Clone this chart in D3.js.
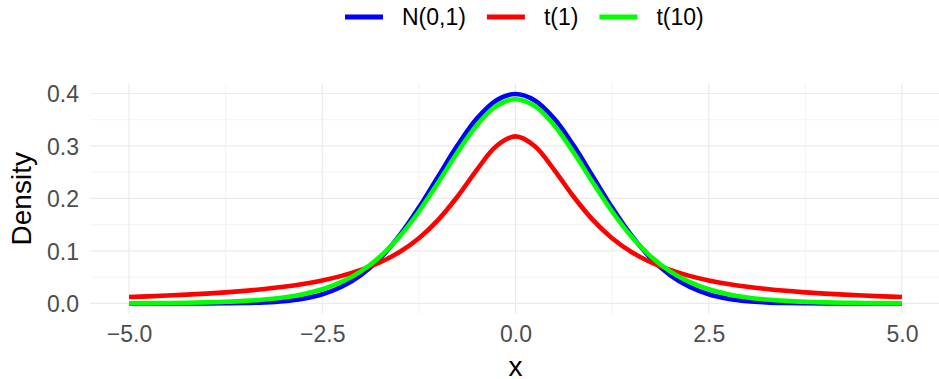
<html>
<head>
  <meta charset="utf-8">
  <title></title>
  <style>
    body { margin: 0; background: #fff; }
    text { font-family: "Liberation Sans", Arial, sans-serif; }
  </style>
</head>
<body>
</body>
</html>

<script src="https://d3js.org/d3.v7.min.js"></script>
<script type="text/javascript">

var xs = [-5, -4.75, -4.5, -4.25, -4, -3.75, -3.5, -3.25, -3, -2.75, -2.5, -2.25, -2, -1.75, -1.5, -1.25, -1, -0.75, -0.5, -0.25,
          0, 0.25, 0.5, 0.75, 1, 1.25, 1.5, 1.75, 2, 2.25, 2.5, 2.75, 3, 3.25, 3.5, 3.75, 4, 4.25, 4.5, 4.75, 5];

var normDensity = [0.0000, 0.0000, 0.0000, 0.0000, 0.0001, 0.0004, 0.0009, 0.0020, 0.0044, 0.0091, 0.0175, 0.0317, 0.0540, 0.0863, 0.1295, 0.1826, 0.2420, 0.3011, 0.3521, 0.3867,
                   0.3989, 0.3867, 0.3521, 0.3011, 0.2420, 0.1826, 0.1295, 0.0863, 0.0540, 0.0317, 0.0175, 0.0091, 0.0044, 0.0020, 0.0009, 0.0004, 0.0001, 0.0000, 0.0000, 0.0000, 0.0000];

var t1Density = [0.0122, 0.0135, 0.0150, 0.0167, 0.0187, 0.0211, 0.0240, 0.0275, 0.0318, 0.0372, 0.0439, 0.0525, 0.0637, 0.0784, 0.0979, 0.1242, 0.1592, 0.2037, 0.2546, 0.2996,
                 0.3183, 0.2996, 0.2546, 0.2037, 0.1592, 0.1242, 0.0979, 0.0784, 0.0637, 0.0525, 0.0439, 0.0372, 0.0318, 0.0275, 0.0240, 0.0211, 0.0187, 0.0167, 0.0150, 0.0135, 0.0122];

var t10Density = [0.0004, 0.0006, 0.0009, 0.0013, 0.0020, 0.0031, 0.0048, 0.0074, 0.0114, 0.0176, 0.0269, 0.0409, 0.0611, 0.0895, 0.1274, 0.1751, 0.2304, 0.2880, 0.3397, 0.3760,
                  0.3891, 0.3760, 0.3397, 0.2880, 0.2304, 0.1751, 0.1274, 0.0895, 0.0611, 0.0409, 0.0269, 0.0176, 0.0114, 0.0074, 0.0048, 0.0031, 0.0020, 0.0013, 0.0009, 0.0006, 0.0004];

var seriesNames = ["N(0,1)", "t(1)", "t(10)"];
var seriesColors = ["#0000ff", "#ff0000", "#00ff00"];

var xTicks = [-5, -2.5, 0, 2.5, 5];
var xMinor = [-3.75, -1.25, 1.25, 3.75];
var yTicks = [0, 0.1, 0.2, 0.3, 0.4];
var yMinor = [0.05, 0.15, 0.25, 0.35];

var width = 939,
    height = 379;

var x = d3.scaleLinear().domain([-5.5, 5.5]).range([90.4, 940.6]);
var y = d3.scaleLinear().domain([-0.01995, 0.41884]).range([313.9, 83.6]);

var svg = d3.select("body").append("svg").attr("width", width).attr("height", height);

// grid
var grid = svg.append("g");
grid.selectAll(".xminor").data(xMinor).enter().append("line")
    .attr("x1", d => x(d)).attr("x2", d => x(d))
    .attr("y1", y.range()[0]).attr("y2", y.range()[1])
    .style("stroke", "#ebebeb").style("stroke-width", 0.6);
grid.selectAll(".yminor").data(yMinor).enter().append("line")
    .attr("x1", x.range()[0]).attr("x2", x.range()[1])
    .attr("y1", d => y(d)).attr("y2", d => y(d))
    .style("stroke", "#ebebeb").style("stroke-width", 0.6);
grid.selectAll(".xmajor").data(xTicks).enter().append("line")
    .attr("x1", d => x(d)).attr("x2", d => x(d))
    .attr("y1", y.range()[0]).attr("y2", y.range()[1])
    .style("stroke", "#ebebeb").style("stroke-width", 1.2);
grid.selectAll(".ymajor").data(yTicks).enter().append("line")
    .attr("x1", x.range()[0]).attr("x2", x.range()[1])
    .attr("y1", d => y(d)).attr("y2", d => y(d))
    .style("stroke", "#ebebeb").style("stroke-width", 1.2);

// curves
var series = [normDensity, t1Density, t10Density];
var line = d3.line()
    .x((d, i) => x(xs[i]))
    .y(d => y(d))
    .curve(d3.curveCatmullRom.alpha(0.5));

svg.selectAll(".curve").data(series).enter().append("path")
    .attr("d", d => line(d))
    .style("fill", "none")
    .style("stroke", (d, i) => seriesColors[i])
    .style("stroke-width", 4.6)
    .style("stroke-linejoin", "round");

// axes (labels only)
var xAxis = d3.axisBottom(x).tickValues(xTicks).tickFormat(d3.format(".1f")).tickSize(0).tickPadding(0);
var yAxis = d3.axisLeft(y).tickValues(yTicks).tickFormat(d3.format(".1f")).tickSize(0).tickPadding(0);

var gx = svg.append("g").attr("transform", "translate(0,326)").call(xAxis);
var gy = svg.append("g").attr("transform", "translate(79,0)").call(yAxis);
[gx, gy].forEach(function(g) {
  g.select(".domain").remove();
  g.selectAll("text")
    .style("font-family", "'Liberation Sans', Arial, sans-serif")
    .style("font-size", "23px")
    .style("fill", "#4d4d4d");
});
gx.selectAll("text").attr("dy", "0.71em").attr("y", 0);
gy.selectAll("text").attr("dy", "0.36em").attr("x", 0);

// axis titles
svg.append("text")
    .attr("x", (x.range()[0] + x.range()[1]) / 2)
    .attr("y", 376)
    .attr("text-anchor", "middle")
    .style("font-size", "28px")
    .style("fill", "#000")
    .text("x");

svg.append("text")
    .attr("transform", "translate(31," + ((y.range()[0] + y.range()[1]) / 2) + ") rotate(-90)")
    .attr("text-anchor", "middle")
    .style("font-size", "28px")
    .style("fill", "#000")
    .text("Density");

// legend
var legend = svg.append("g");
var lx = 345, ly = 17;
seriesNames.forEach(function(name, i) {
  legend.append("line")
    .attr("x1", lx).attr("x2", lx + 38)
    .attr("y1", ly).attr("y2", ly)
    .style("stroke", seriesColors[i])
    .style("stroke-width", 5);
  var t = legend.append("text")
    .attr("x", lx + 57)
    .attr("y", ly)
    .attr("dy", "0.36em")
    .style("font-size", "23px")
    .style("fill", "#000")
    .text(name);
  lx = lx + 57 + t.node().getComputedTextLength() + 21;
});

</script>
